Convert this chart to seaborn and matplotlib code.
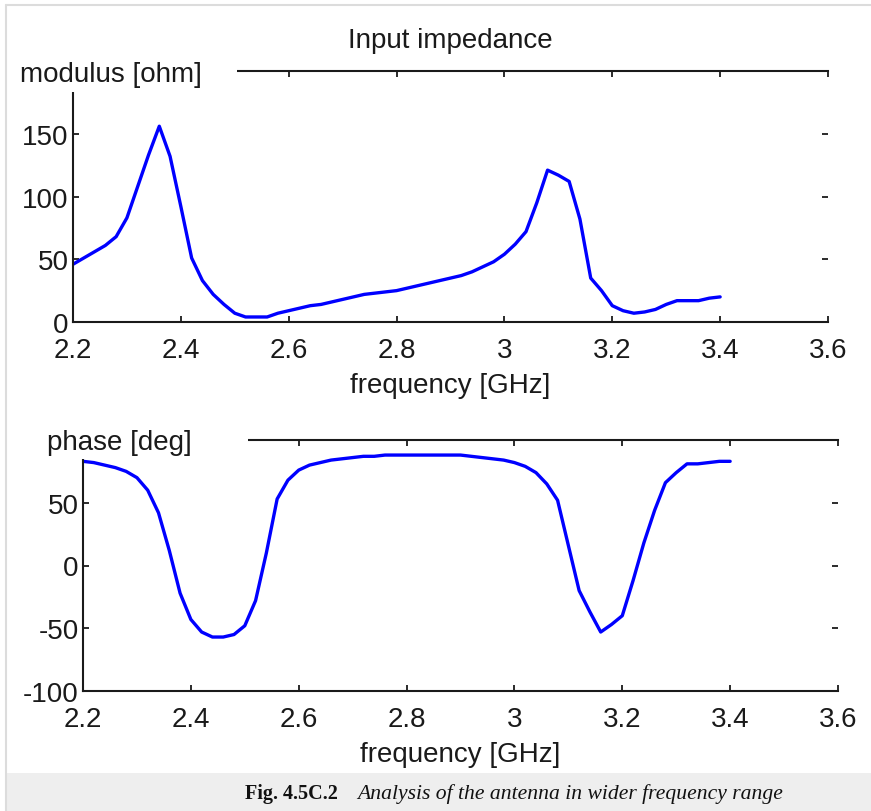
import numpy as np
import pandas as pd
import matplotlib
matplotlib.use('Agg')
import matplotlib.pyplot as plt
from matplotlib.patches import Rectangle
from matplotlib.lines import Line2D
import seaborn as sns

# frequency grid [GHz] and values
freq = [2.20, 2.22, 2.24, 2.26, 2.28, 2.30, 2.32, 2.34, 2.36, 2.38,
        2.40, 2.42, 2.44, 2.46, 2.48, 2.50, 2.52, 2.54, 2.56, 2.58,
        2.60, 2.62, 2.64, 2.66, 2.68, 2.70, 2.72, 2.74, 2.76, 2.78,
        2.80, 2.82, 2.84, 2.86, 2.88, 2.90, 2.92, 2.94, 2.96, 2.98,
        3.00, 3.02, 3.04, 3.06, 3.08, 3.10, 3.12, 3.14, 3.16, 3.18,
        3.20, 3.22, 3.24, 3.26, 3.28, 3.30, 3.32, 3.34, 3.36, 3.38, 3.40]

modulus = [46, 51, 56, 61, 68, 83, 108, 133, 156, 132,
           92, 51, 33, 22, 14, 7, 4, 4, 4, 7,
           9, 11, 13, 14, 16, 18, 20, 22, 23, 24,
           25, 27, 29, 31, 33, 35, 37, 40, 44, 48,
           54, 62, 72, 95, 121, 117, 112, 82, 35, 25,
           13, 9, 7, 8, 10, 14, 17, 17, 17, 19, 20]

phase = [83, 82, 80, 78, 75, 70, 60, 42, 12, -22,
         -43, -53, -57, -57, -55, -48, -28, 10, 53, 68,
         76, 80, 82, 84, 85, 86, 87, 87, 88, 88,
         88, 88, 88, 88, 88, 88, 87, 86, 85, 84,
         82, 79, 74, 65, 52, 16, -20, -37, -53, -47,
         -40, -12, 18, 44, 66, 74, 81, 81, 82, 83, 83]

xticks = [2.2, 2.4, 2.6, 2.8, 3.0, 3.2, 3.4, 3.6]
xtick_labels = ['2.2', '2.4', '2.6', '2.8', '3', '3.2', '3.4', '3.6']
mod_ticks = [0, 50, 100, 150, 200]
mod_labels = ['0', '50', '100', '150', '']
phase_ticks = [-100, -50, 0, 50, 100]
phase_labels = ['-100', '-50', '0', '50', '']

df = pd.DataFrame({'freq': freq, 'modulus': modulus, 'phase': phase})

sns.set_theme(style='white')
plt.rcParams['font.family'] = ['Liberation Sans', 'DejaVu Sans']
plt.rcParams['axes.unicode_minus'] = False

W, H = 871, 812
fig = plt.figure(figsize=(W / 100, H / 100), dpi=100)
fig.patch.set_facecolor('white')


def box(x0, y0, x1, y1):
    # pixel box (y from top) -> figure fraction rect
    return [x0 / W, 1 - y1 / H, (x1 - x0) / W, (y1 - y0) / H]


ax1 = fig.add_axes(box(73, 72, 828, 323))
ax2 = fig.add_axes(box(83, 441, 838, 692))

sns.lineplot(data=df, x='freq', y='modulus', ax=ax1, color='#0000ff', lw=2.4)
sns.lineplot(data=df, x='freq', y='phase', ax=ax2, color='#0000ff', lw=2.4)

for ax, yt, yl in [(ax1, mod_ticks, mod_labels), (ax2, phase_ticks, phase_labels)]:
    ax.set_xlim(2.2, 3.6)
    ax.set_ylim(yt[0], yt[-1])
    ax.set_xticks(xticks)
    ax.set_xticklabels(xtick_labels)
    ax.set_yticks(yt)
    ax.set_yticklabels(yl)
    ax.set_ylabel('')
    ax.set_xlabel('frequency [GHz]', fontsize=20, color='#1a1a1a', labelpad=6)
    for s in ['top', 'left', 'bottom']:
        ax.spines[s].set_color('#1a1a1a')
        ax.spines[s].set_linewidth(1.5)
    ax.spines['right'].set_visible(False)
    ax.tick_params(direction='in', top=True, right=True, bottom=True, left=True,
                   length=4, width=1.3, color='#1a1a1a', labelsize=20,
                   labelcolor='#1a1a1a')
    ax.tick_params(axis='x', pad=11)
    ax.tick_params(axis='y', pad=3)

ax1.set_title('Input impedance', fontsize=20, color='#1a1a1a', pad=17)

# white boxes behind the axis names (cover spines as in the original)
for x0, y0, x1, y1 in [(8, 55, 237, 93), (8, 424, 248, 460)]:
    fig.patches.append(Rectangle((x0 / W, 1 - y1 / H), (x1 - x0) / W, (y1 - y0) / H,
                                 transform=fig.transFigure, facecolor='white',
                                 edgecolor='none', zorder=2))
fig.text(20 / W, 1 - 75 / H, 'modulus [ohm]', fontsize=20, color='#1a1a1a',
         va='center', ha='left', zorder=3)
fig.text(47 / W, 1 - 443 / H, 'phase [deg]', fontsize=20, color='#1a1a1a',
         va='center', ha='left', zorder=3)

# page frame and caption strip
fig.add_artist(Line2D([5.5 / W, 5.5 / W], [0, 1 - 5.5 / H], color='#dcdcdc', lw=1.5))
fig.add_artist(Line2D([5.5 / W, 1], [1 - 5.5 / H, 1 - 5.5 / H], color='#dcdcdc', lw=1.5))
fig.patches.append(Rectangle((6 / W, 0), 1, 38 / H, transform=fig.transFigure,
                             facecolor='#eeeeee', edgecolor='none', zorder=1))
fig.text(245 / W, 1 - 794 / H, 'Fig. 4.5C.2', fontsize=14.5, fontweight='bold',
         family='Liberation Serif', va='center', ha='left', color='#111111')
fig.text(357 / W, 1 - 794 / H, 'Analysis of the antenna in wider frequency range',
         fontsize=15.6, fontstyle='italic', family='Liberation Serif',
         va='center', ha='left', color='#111111')

fig.savefig('out.png', dpi=100)
